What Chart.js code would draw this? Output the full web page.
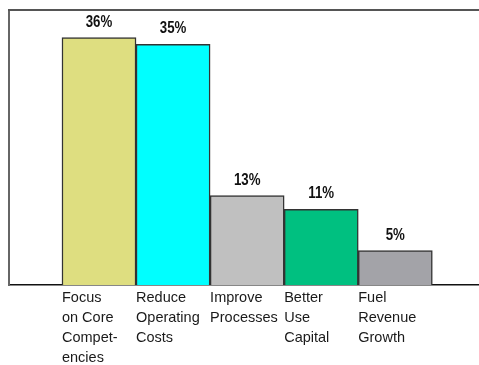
<!DOCTYPE html>
<html>
<head>
<meta charset="utf-8">
<script src="https://cdn.jsdelivr.net/npm/chart.js@4.4.1/dist/chart.umd.min.js"></script>
<style>
  html, body { margin: 0; padding: 0; background: #ffffff; }
  #wrap { width: 479px; height: 365px; }
</style>
</head>
<body>
<div id="wrap"><canvas id="c" width="479" height="365"></canvas></div>
<script>
const categories = [
  ["Focus", "on Core", "Compet-", "encies"],
  ["Reduce", "Operating", "Costs"],
  ["Improve", "Processes"],
  ["Better", "Use", "Capital"],
  ["Fuel", "Revenue", "Growth"]
];
const values = [36, 35, 13, 11, 5];
const barColors = ["#DEDE80", "#00FFFF", "#C0C0C0", "#00C080", "#A3A3A8"];

const frameTop = {
  id: 'frameTop',
  afterDraw(chart) {
    const a = chart.chartArea, ctx = chart.ctx;
    ctx.save();
    ctx.strokeStyle = '#555555';
    ctx.lineWidth = 2;
    ctx.beginPath();
    ctx.moveTo(a.left - 1, a.top);
    ctx.lineTo(a.right, a.top);
    ctx.stroke();
    ctx.restore();
  }
};

const valueLabels = {
  id: 'valueLabels',
  afterDatasetsDraw(chart) {
    const ctx = chart.ctx;
    const meta = chart.getDatasetMeta(0);
    ctx.save();
    ctx.font = 'bold 17px "Liberation Sans", Arial, sans-serif';
    ctx.fillStyle = '#111111';
    ctx.textAlign = 'center';
    ctx.textBaseline = 'alphabetic';
    meta.data.forEach((bar, i) => {
      ctx.save();
      ctx.translate(bar.x, bar.y - 11);
      ctx.scale(0.78, 1);
      ctx.fillText(values[i] + '%', 0, 0);
      ctx.restore();
    });
    ctx.restore();
  }
};

new Chart(document.getElementById('c'), {
  type: 'bar',
  data: {
    datasets: [{
      data: values.map((v, i) => ({ x: i, y: v })),
      backgroundColor: barColors,
      borderColor: '#333333',
      borderWidth: 1.5,
      borderSkipped: 'bottom',
      barPercentage: 1,
      categoryPercentage: 1
    }]
  },
  options: {
    responsive: false,
    animation: false,
    devicePixelRatio: 1,
    layout: { padding: { left: 9, top: 10, right: 0, bottom: 0 } },
    plugins: { legend: { display: false }, tooltip: { enabled: false } },
    scales: {
      x: {
        type: 'linear',
        offset: false,
        min: -1.215,
        max: 5.13,
        grid: { display: false, offset: false },
        border: { display: true, color: '#111111', width: 1.5 },
        afterBuildTicks: (scale) => {
          scale.ticks = categories.map((c, i) => ({ value: i - 0.5 }));
        },
        afterFit: (scale) => { scale.height = 80; },
        ticks: {
          autoSkip: false,
          maxRotation: 0,
          minRotation: 0,
          align: 'start',
          padding: -5,
          color: '#1a1a1a',
          font: { family: '"Liberation Sans", Arial, sans-serif', size: 14.5, lineHeight: 1.38 },
          callback: (value, index) => categories[index]
        }
      },
      y: {
        min: 0,
        max: 40,
        grid: { display: false },
        border: { display: true, color: '#666666', width: 2 },
        ticks: { display: false },
        afterFit: (scale) => { scale.width = 0; }
      }
    }
  },
  plugins: [frameTop, valueLabels]
});
</script>
</body>
</html>
